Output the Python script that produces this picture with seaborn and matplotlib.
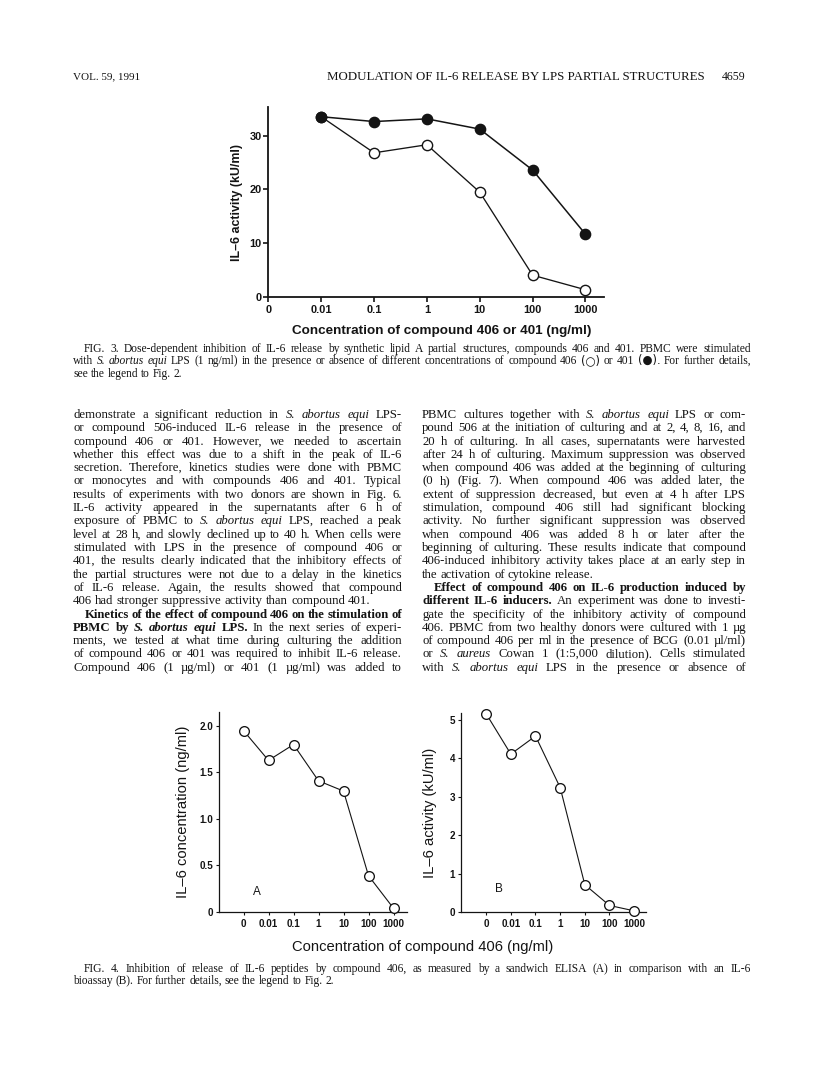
import matplotlib
matplotlib.use('Agg')
import matplotlib.pyplot as plt
import seaborn as sns
import pandas as pd

# ---- Fig. 3 data (IL-6 activity, kU/ml) ----
fig3_conc = ['0.01', '0.1', '1', '10', '100', '1000']
fig3_cmpd406 = [33.5, 26.8, 28.3, 19.5, 4.1, 1.4]
fig3_cmpd401 = [33.5, 32.6, 33.1, 31.2, 23.6, 11.7]
fig3_yticks = [0, 10, 20, 30]

# ---- Fig. 4 data ----
fig4_conc = ['0', '0.01', '0.1', '1', '10', '100', '1000']
fig4_elisa = [1.95, 1.63, 1.80, 1.41, 1.30, 0.39, 0.04]      # ng/ml
fig4_bioassay = [5.16, 4.11, 4.58, 3.24, 0.71, 0.17, 0.03]   # kU/ml
fig4a_yticks = [0, 0.5, 1.0, 1.5, 2.0]
fig4a_ylabels = ['0', '0.5', '1.0', '1.5', '2.0']
fig4b_yticks = [0, 1, 2, 3, 4, 5]

# ---- page text ----
# '>' indent, '~' paragraph end, '_' italic word, '=' bold word, '%' bold italic word
left_col = [
    "demonstrate a significant reduction in _S. _abortus _equi LPS-",
    "or compound 506-induced IL-6 release in the presence of",
    "compound 406 or 401. However, we needed to ascertain",
    "whether this effect was due to a shift in the peak of IL-6",
    "secretion. Therefore, kinetics studies were done with PBMC",
    "or monocytes and with compounds 406 and 401. Typical",
    "results of experiments with two donors are shown in Fig. 6.",
    "IL-6 activity appeared in the supernatants after 6 h of",
    "exposure of PBMC to _S. _abortus _equi LPS, reached a peak",
    "level at 28 h, and slowly declined up to 40 h. When cells were",
    "stimulated with LPS in the presence of compound 406 or",
    "401, the results clearly indicated that the inhibitory effects of",
    "the partial structures were not due to a delay in the kinetics",
    "of IL-6 release. Again, the results showed that compound",
    "406 had stronger suppressive activity than compound 401.~",
    ">=Kinetics =of =the =effect =of =compound =406 =on =the =stimulation =of",
    "=PBMC =by %S. %abortus %equi =LPS. In the next series of experi-",
    "ments, we tested at what time during culturing the addition",
    "of compound 406 or 401 was required to inhibit IL-6 release.",
    "Compound 406 (1 µg/ml) or 401 (1 µg/ml) was added to",
]
right_col = [
    "PBMC cultures together with _S. _abortus _equi LPS or com-",
    "pound 506 at the initiation of culturing and at 2, 4, 8, 16, and",
    "20 h of culturing. In all cases, supernatants were harvested",
    "after 24 h of culturing. Maximum suppression was observed",
    "when compound 406 was added at the beginning of culturing",
    "(0 h) (Fig. 7). When compound 406 was added later, the",
    "extent of suppression decreased, but even at 4 h after LPS",
    "stimulation, compound 406 still had significant blocking",
    "activity. No further significant suppression was observed",
    "when compound 406 was added 8 h or later after the",
    "beginning of culturing. These results indicate that compound",
    "406-induced inhibitory activity takes place at an early step in",
    "the activation of cytokine release.~",
    ">=Effect =of =compound =406 =on =IL-6 =production =induced =by",
    "=different =IL-6 =inducers. An experiment was done to investi-",
    "gate the specificity of the inhibitory activity of compound",
    "406. PBMC from two healthy donors were cultured with 1 µg",
    "of compound 406 per ml in the presence of BCG (0.01 µl/ml)",
    "or _S. _aureus Cowan 1 (1:5,000 dilution). Cells stimulated",
    "with _S. _abortus _equi LPS in the presence or absence of",
]
caption3 = [
    ">FIG. 3. Dose-dependent inhibition of IL-6 release by synthetic lipid A partial structures, compounds 406 and 401. PBMC were stimulated",
    "with _S. _abortus _equi LPS (1 ng/ml) in the presence or absence of different concentrations of compound 406 (○) or 401 (●). For further details,",
    "see the legend to Fig. 2.~",
]
caption4 = [
    ">FIG. 4. Inhibition of release of IL-6 peptides by compound 406, as measured by a sandwich ELISA (A) in comparison with an IL-6",
    "bioassay (B). For further details, see the legend to Fig. 2.~",
]

W, H = 816, 1077
INK = '#141414'
SANS = 'Liberation Sans'
SERIF = 'Liberation Serif'

sns.set_theme(style='ticks')
plt.rcParams['font.family'] = [SERIF, 'DejaVu Sans']

fig = plt.figure(figsize=(W / 100, H / 100), dpi=100)
fig.patch.set_facecolor('white')
r = fig.canvas.get_renderer()


def axes_px(left, top, right, bottom):
    return fig.add_axes([left / W, 1 - bottom / H, (right - left) / W, (bottom - top) / H])


def fit(t, length, vertical=False):
    bb = t.get_window_extent(renderer=r)
    cur = bb.height if vertical else bb.width
    t.set_fontsize(t.get_fontsize() * length / cur)


def style(ax, lw, tick_len, tick_w, xpad, ypad):
    sns.despine(ax=ax)
    ax.set_facecolor('none')
    for s in ('left', 'bottom'):
        ax.spines[s].set_linewidth(lw)
        ax.spines[s].set_color(INK)
    ax.tick_params(direction='out', length=tick_len, width=tick_w, color=INK, labelcolor=INK)
    ax.tick_params(axis='x', pad=xpad)
    ax.tick_params(axis='y', pad=ypad)


def curve(ax, x, y, filled, ms, lw, mew):
    sns.lineplot(x=x, y=y, ax=ax, color=INK, linewidth=lw, marker='o', markersize=ms,
                 markerfacecolor=INK if filled else 'white', markeredgecolor=INK,
                 markeredgewidth=mew, sort=False, errorbar=None, clip_on=False, zorder=3)


def set_line(line, x0, x1, yc, size, indent=11):
    if line.startswith('>'):
        x0 += indent
        line = line[1:]
    last = line.endswith('~')
    line = line.rstrip('~')
    words = []
    for w in line.split():
        st, wt = 'normal', 'normal'
        if w[0] == '_':
            st, w = 'italic', w[1:]
        elif w[0] == '=':
            wt, w = 'bold', w[1:]
        elif w[0] == '%':
            st, wt, w = 'italic', 'bold', w[1:]
        fam = 'DejaVu Sans' if ('○' in w or '●' in w) else SERIF
        words.append(fig.text(0, 1 - round(yc + 3.5) / H, w, fontsize=size, style=st, weight=wt,
                              family=fam, va='baseline', ha='left', color=INK))
    em = size * 100 / 72
    widths = [t.get_window_extent(renderer=r).width for t in words]
    n = len(words)
    if not last and n > 1:
        gap = (x1 - x0 - sum(widths)) / (n - 1)
        if gap < 0.22 * em:
            k = (x1 - x0 - (n - 1) * 0.22 * em) / sum(widths)
            for t in words:
                t.set_fontsize(t.get_fontsize() * k)
            widths = [t.get_window_extent(renderer=r).width for t in words]
            gap = (x1 - x0 - sum(widths)) / (n - 1)
    else:
        gap = 0.25 * em
    x = x0
    for t, w in zip(words, widths):
        t.set_x(x / W)
        x += w + gap


def header(s, x0, x1, yc):
    t = fig.text(x0 / W, 1 - yc / H, s, family=SERIF, fontsize=7.5, va='center', ha='left',
                 color=INK)
    fit(t, x1 - x0)
    return t


# ---- running head ----
header('VOL. 59, 1991', 73, 140, 77)
header('MODULATION OF IL-6 RELEASE BY LPS PARTIAL STRUCTURES', 327, 703, 77)
header('4659', 722, 746, 77)

# ---- Fig. 3 ----
ax3 = axes_px(268.3, 107, 604, 297.3)
pos3 = list(range(1, len(fig3_conc) + 1))
curve(ax3, pos3, fig3_cmpd406, False, 7.4, 0.95, 1.0)
curve(ax3, pos3, fig3_cmpd401, True, 7.4, 1.1, 1.0)
ax3.set_xlim(0, 6.35)
ax3.set_ylim(0, 35.3)
ax3.set_xticks([0] + pos3, ['0'] + fig3_conc, fontsize=7.9, fontweight='bold', family=SANS)
ax3.set_yticks(fig3_yticks, [str(v) for v in fig3_yticks], fontsize=7.9, fontweight='bold', family=SANS)
style(ax3, 1.3, 3.6, 1.2, 1.8, 1.2)
ax3.set_ylabel('IL–6 activity (kU/ml)', family=SANS, weight='bold', fontsize=8, color=INK, va='center')
ax3.yaxis.set_label_coords((237 - 268.3) / 335.7, 0.5)
fit(ax3.yaxis.label, 117, vertical=True)
ax3.set_xlabel('Concentration of compound 406 or 401 (ng/ml)', family=SANS, weight='bold',
               fontsize=8.5, color=INK, va='center')
ax3.xaxis.set_label_coords((442 - 268.3) / 335.7, -(331 - 297.3) / 190.3)
fit(ax3.xaxis.label, 298)

for i, line in enumerate(caption3):
    set_line(line, 73, 751, 348 + 12.8 * i, 8.3)

# ---- body text ----
for i, line in enumerate(left_col):
    set_line(line, 73, 402, 414.5 + 13.3 * i, 9.2, indent=12)
for i, line in enumerate(right_col):
    set_line(line, 422, 746, 414.5 + 13.3 * i, 9.2, indent=12)

# ---- Fig. 4 ----
pos4 = list(range(len(fig4_conc)))
ax_a = axes_px(219, 712, 407, 912)
curve(ax_a, pos4, fig4_elisa, False, 7.0, 0.8, 0.95)
ax_a.set_xlim(-0.98, 6.54)
ax_a.set_ylim(0, 2.15)
ax_a.set_xticks(pos4, fig4_conc, fontsize=7.1, fontweight='bold', family=SANS)
ax_a.set_yticks(fig4a_yticks, fig4a_ylabels, fontsize=7.1, fontweight='bold', family=SANS)
style(ax_a, 0.9, 2.2, 0.8, 3.0, 2.2)
ax_a.text(0.55, 0.22, 'A', family=SANS, fontsize=8.5, color=INK, ha='center', va='center')

ax_b = axes_px(461, 713, 646, 912)
curve(ax_b, pos4, fig4_bioassay, False, 7.0, 0.8, 0.95)
ax_b.set_xlim(-1.02, 6.48)
ax_b.set_ylim(0, 5.18)
ax_b.set_xticks(pos4, fig4_conc, fontsize=7.1, fontweight='bold', family=SANS)
ax_b.set_yticks(fig4b_yticks, [str(v) for v in fig4b_yticks], fontsize=7.1, fontweight='bold', family=SANS)
style(ax_b, 0.9, 2.2, 0.8, 3.0, 2.2)
ax_b.text(0.5, 0.6, 'B', family=SANS, fontsize=8.5, color=INK, ha='center', va='center')

ax_b.set_ylabel('IL–6 activity (kU/ml)', family=SANS, fontsize=9, color=INK, va='center')
ax_b.yaxis.set_label_coords((430 - 461) / 185, 0.5)
fit(ax_b.yaxis.label, 130, vertical=True)
ax_a.set_ylabel('IL–6 concentration (ng/ml)', family=SANS, color=INK, va='center',
                fontsize=ax_b.yaxis.label.get_fontsize())
ax_a.yaxis.set_label_coords((183 - 219) / 188, 0.5)

xl4 = fig.text(423 / W, 1 - 947 / H, 'Concentration of compound 406 (ng/ml)', family=SANS,
               fontsize=9, color=INK, ha='center', va='center')
fit(xl4, 261)

for i, line in enumerate(caption4):
    set_line(line, 73, 751, 968 + 12.8 * i, 8.3)

fig.savefig('out.png', dpi=100, facecolor='white')
